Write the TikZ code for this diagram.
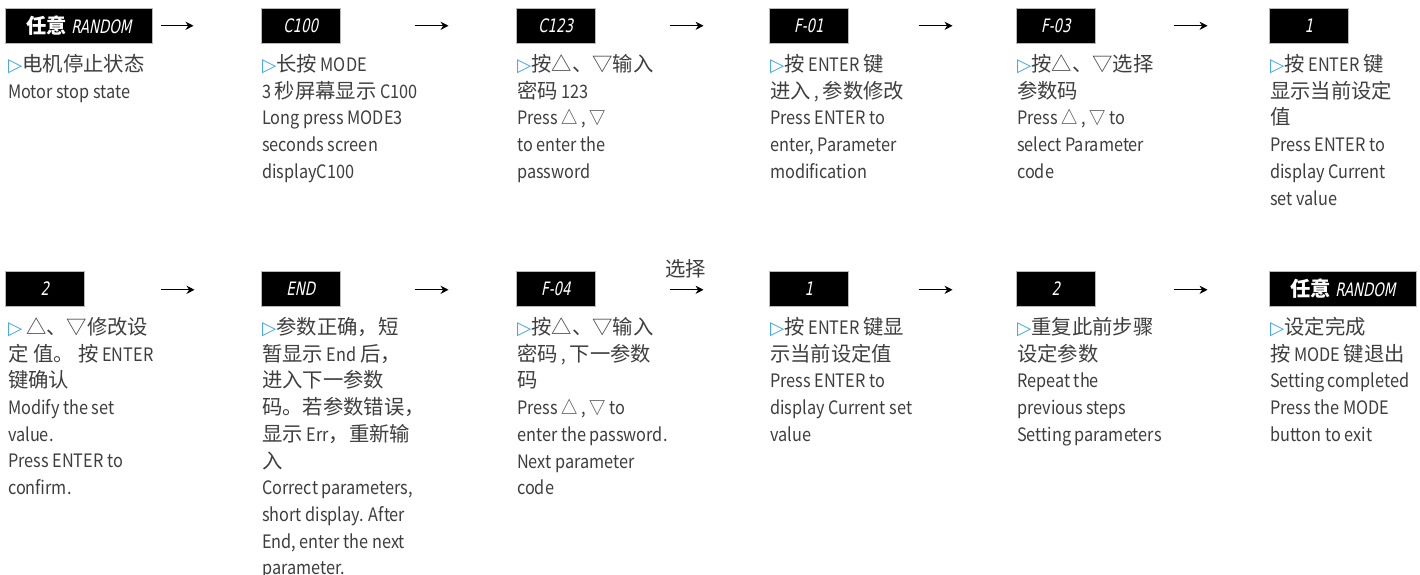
\documentclass[tikz,border=0pt]{standalone}
\usepackage{fontspec}
\setmainfont[FakeStretch=0.88]{Noto Sans CJK SC}
\newfontfamily\cnfont[Scale=1.1]{Noto Sans CJK SC}
\newfontfamily\symfont{DejaVu Sans}
\newfontfamily\segfont[FakeStretch=0.72,FakeSlant=0.2]{DejaVu Sans}
\usepackage{tikz}
\usetikzlibrary{calc}
\usetikzlibrary{arrows.meta}

\definecolor{txtgray}{RGB}{62,62,62}
\definecolor{triblue}{RGB}{64,165,228}
\newcommand{\cn}[1]{{\cnfont #1}}
\newcommand{\tri}{{\color{triblue}\symfont ▷}}
\newcommand{\lcdcn}[1]{{\cnfont\bfseries #1}}

\begin{document}
\begin{tikzpicture}[x=1pt,y=-1pt]
				\tikzstyle{lcd}=[anchor=north west,fill=black,draw=gray!55,line width=0.6pt,minimum width=79pt,minimum height=35pt,inner sep=0pt,text=white,font=\segfont\fontsize{18.5}{18.5}\selectfont]
				\tikzstyle{wide}=[minimum width=147pt]
				\tikzstyle{txt}=[anchor=north west,align=left,inner sep=0pt,text=txtgray,font=\fontsize{18.5}{26.7}\selectfont]
				\tikzstyle{flow}=[-{Stealth[length=8pt,width=8pt,inset=2.5pt]},line width=1.3pt]

				\useasboundingbox (0,0) rectangle (1420,574);

				% displays, first row
				\node [lcd,wide] (d1) at (5,8) {\lcdcn{任意} RANDOM};
				\node [lcd] (d2) at (261,8) {C100};
				\node [lcd] (d3) at (516,8) {C123};
				\node [lcd] (d4) at (769,8) {F-01};
				\node [lcd] (d5) at (1016,8) {F-03};
				\node [lcd] (d6) at (1269,8) {1};

				% displays, second row
				\node [lcd] (d7) at (5,271) {2};
				\node [lcd] (d8) at (261,271) {END};
				\node [lcd] (d9) at (516,271) {F-04};
				\node [lcd] (d10) at (769,271) {1};
				\node [lcd] (d11) at (1016,271) {2};
				\node [lcd,wide] (d12) at (1269,271) {\lcdcn{任意} RANDOM};

				\node [txt] (t1) at ($(d1.south west)+(3,10.5)$) {\tri\cn{电机停止状态}\\
					Motor stop state};
				\node [txt] (t2) at ($(d2.south west)+(1,10.5)$) {\tri\cn{长按} MODE\\
					3 \cn{秒屏幕显示} C100\\
					Long press MODE3\\
					seconds screen\\
					displayC100};
				\node [txt] (t3) at ($(d3.south west)+(1,10.5)$) {\tri\cn{按△、▽输入}\\
					\cn{密码} 123\\
					Press △ , ▽\\
					to enter the\\
					password};
				\node [txt] (t4) at ($(d4.south west)+(1,10.5)$) {\tri\cn{按} ENTER \cn{键}\\
					\cn{进入} , \cn{参数修改}\\
					Press ENTER to\\
					enter, Parameter\\
					modification};
				\node [txt] (t5) at ($(d5.south west)+(1,10.5)$) {\tri\cn{按△、▽选择}\\
					\cn{参数码}\\
					Press △ , ▽ to\\
					select Parameter\\
					code};
				\node [txt] (t6) at ($(d6.south west)+(1,10.5)$) {\tri\cn{按} ENTER \cn{键}\\
					\cn{显示当前设定}\\
					\cn{值}\\
					Press ENTER to\\
					display Current\\
					set value};

				\node [txt] (t7) at ($(d7.south west)+(3,10.5)$) {\tri\ \cn{△、▽修改设}\\
					\cn{定 值。 按} ENTER\\
					\cn{键确认}\\
					Modify the set\\
					value.\\
					Press ENTER to\\
					confirm.};
				\node [txt] (t8) at ($(d8.south west)+(1,10.5)$) {\tri\cn{参数正确，短}\\
					\cn{暂显示} End \cn{后，}\\
					\cn{进入下一参数}\\
					\cn{码。若参数错误，}\\
					\cn{显示} Err\cn{，重新输}\\
					\cn{入}\\
					Correct parameters,\\
					short display. After\\
					End, enter the next\\
					parameter.};
				\node [txt] (t9) at ($(d9.south west)+(1,10.5)$) {\tri\cn{按△、▽输入}\\
					\cn{密码} , \cn{下一参数}\\
					\cn{码}\\
					Press △ , ▽ to\\
					enter the password.\\
					Next parameter\\
					code};
				\node [txt] (t10) at ($(d10.south west)+(1,10.5)$) {\tri\cn{按} ENTER \cn{键显}\\
					\cn{示当前设定值}\\
					Press ENTER to\\
					display Current set\\
					value};
				\node [txt] (t11) at ($(d11.south west)+(1,10.5)$) {\tri\cn{重复此前步骤}\\
					\cn{设定参数}\\
					Repeat the\\
					previous steps\\
					Setting parameters};
				\node [txt] (t12) at ($(d12.south west)+(1,10.5)$) {\tri\cn{设定完成}\\
					\cn{按} MODE \cn{键退出}\\
					Setting completed\\
					Press the MODE\\
					button to exit};

				% arrows between the steps
				\draw[flow] ([xshift=8]d1.east) -- +(33,0);
				\draw[flow] ([xshift=74]d2.east) -- +(34,0);
				\draw[flow] ([xshift=74]d3.east) -- +(34,0);
				\draw[flow] ([xshift=70]d4.east) -- +(34,0);
				\draw[flow] ([xshift=78]d5.east) -- +(34,0);

				\draw[flow] ([xshift=76,yshift=-1]d7.east) -- +(34,0);
				\draw[flow] ([xshift=74,yshift=-1]d8.east) -- +(34,0);
				\draw[flow] ([xshift=74,yshift=-1]d9.east) -- +(34,0);
				\draw[flow] ([xshift=70,yshift=-1]d10.east) -- +(34,0);
				\draw[flow] ([xshift=78,yshift=-1]d11.east) -- +(34,0);

				\node [text=txtgray,inner sep=0pt,font=\fontsize{18.5}{20}\selectfont] (sel) at ($(d9.east)+(90,-20)$) {\cn{选择}};

			\end{tikzpicture}
\end{document}
